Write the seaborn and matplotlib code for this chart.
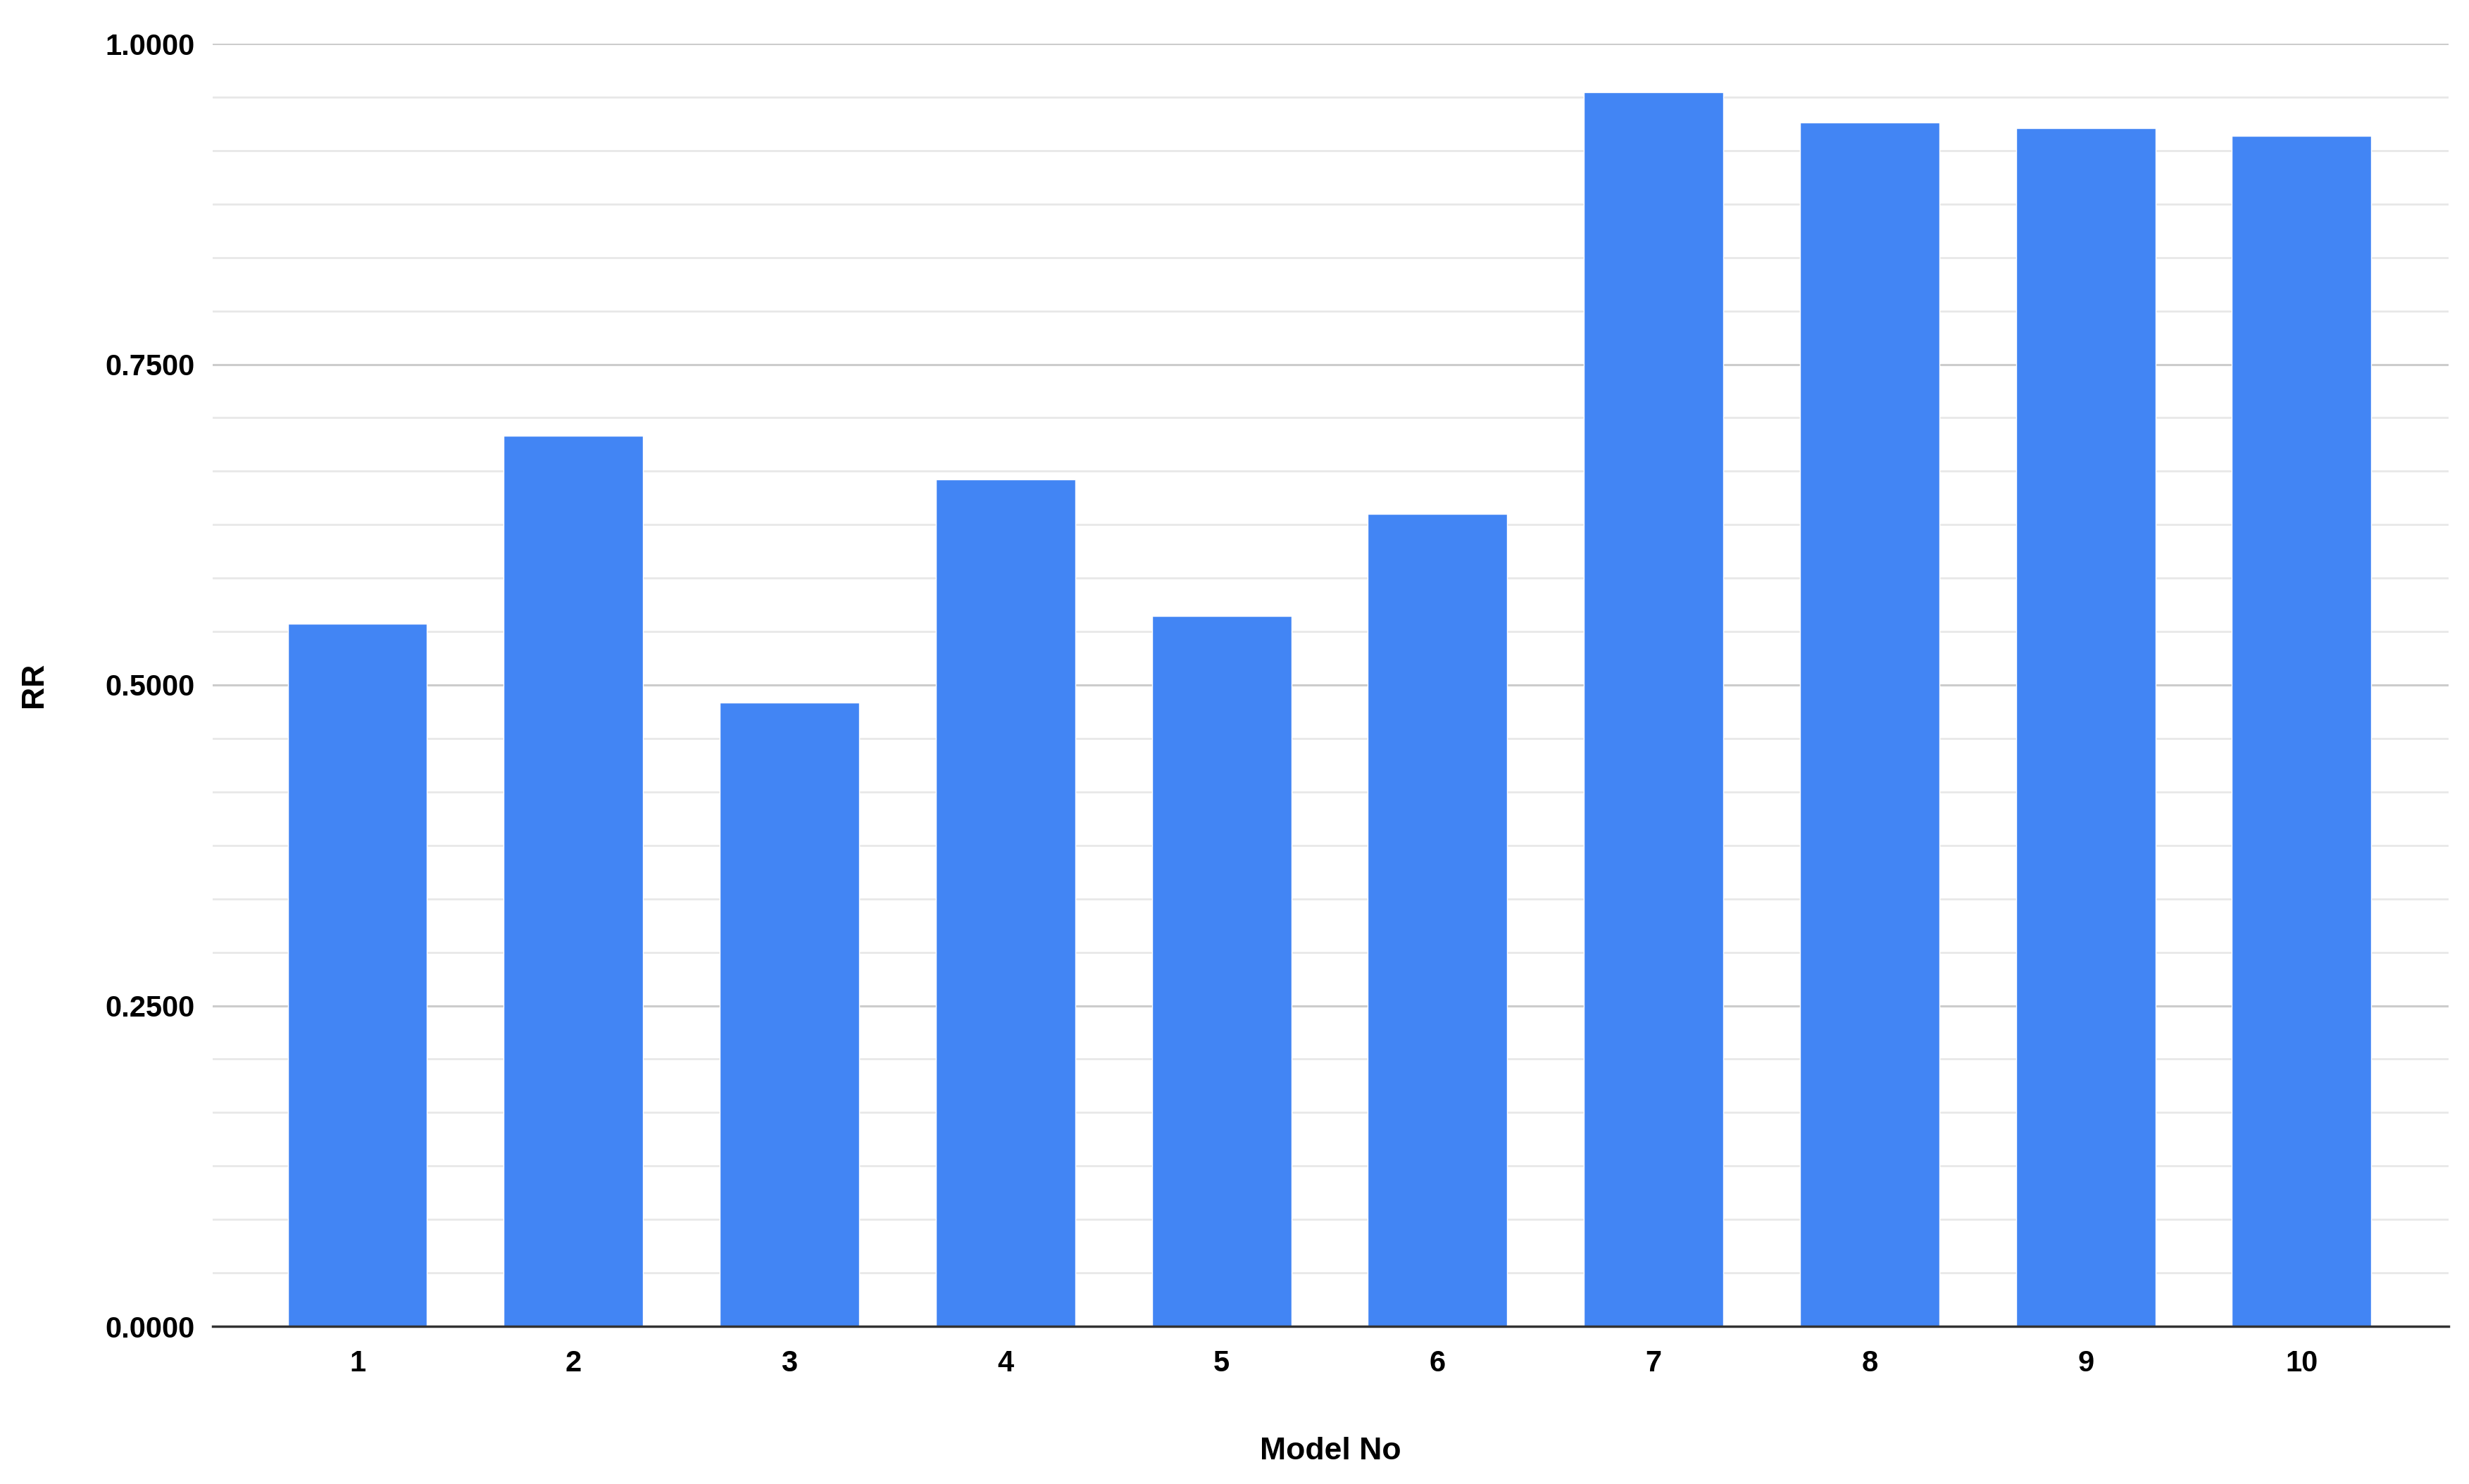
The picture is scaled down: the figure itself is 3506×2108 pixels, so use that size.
import matplotlib
matplotlib.use("Agg")
import matplotlib.pyplot as plt
from matplotlib.ticker import MultipleLocator, FormatStrFormatter
import seaborn as sns
import pandas as pd

models = ["1", "2", "3", "4", "5", "6", "7", "8", "9", "10"]
rr = [0.5480, 0.6945, 0.4861, 0.6604, 0.5539, 0.6336, 0.9624, 0.9386, 0.9342, 0.9282]

df = pd.DataFrame({"Model No": models, "RR": rr})

sns.set_theme(style="white")
plt.rcParams['font.family'] = ['Liberation Sans', 'DejaVu Sans']

fig = plt.figure(figsize=(35.06, 21.08), dpi=100)
ax = fig.add_axes([302/3506, 1 - 1884/2108, (3477-302)/3506, (1884-62)/2108])

sns.barplot(data=df, x="Model No", y="RR", order=models, color="#4285F4",
            saturation=1, width=0.645, ax=ax, zorder=3)

ax.set_ylim(0, 1.0)
ax.set_xlim(-0.67, 9.68)
ax.yaxis.set_major_locator(MultipleLocator(0.25))
ax.yaxis.set_minor_locator(MultipleLocator(0.25/6))
ax.yaxis.set_major_formatter(FormatStrFormatter("%.4f"))
ax.grid(which="major", axis="y", color="#cccccc", linewidth=2.2, zorder=0)
ax.grid(which="minor", axis="y", color="#e8e8e8", linewidth=2.0, zorder=0)
ax.set_axisbelow(True)

for s in ["top", "right", "left"]:
    ax.spines[s].set_visible(False)
ax.spines["bottom"].set_color("#333333")
ax.spines["bottom"].set_linewidth(2.5)
ax.spines["bottom"].set_zorder(4)

ax.tick_params(axis="both", which="both", length=0)
ax.tick_params(axis="y", pad=18, labelsize=30)
ax.tick_params(axis="x", pad=24, labelsize=30)
for lab in ax.get_xticklabels() + ax.get_yticklabels():
    lab.set_fontweight("bold")
    lab.set_color("#000000")

ax.set_xlabel("Model No", fontsize=32, fontweight="bold", labelpad=60, color="#000000")
ax.set_ylabel("RR", fontsize=32, fontweight="bold", labelpad=58, color="#000000")

fig.savefig("out.png", dpi=100, facecolor="white")
